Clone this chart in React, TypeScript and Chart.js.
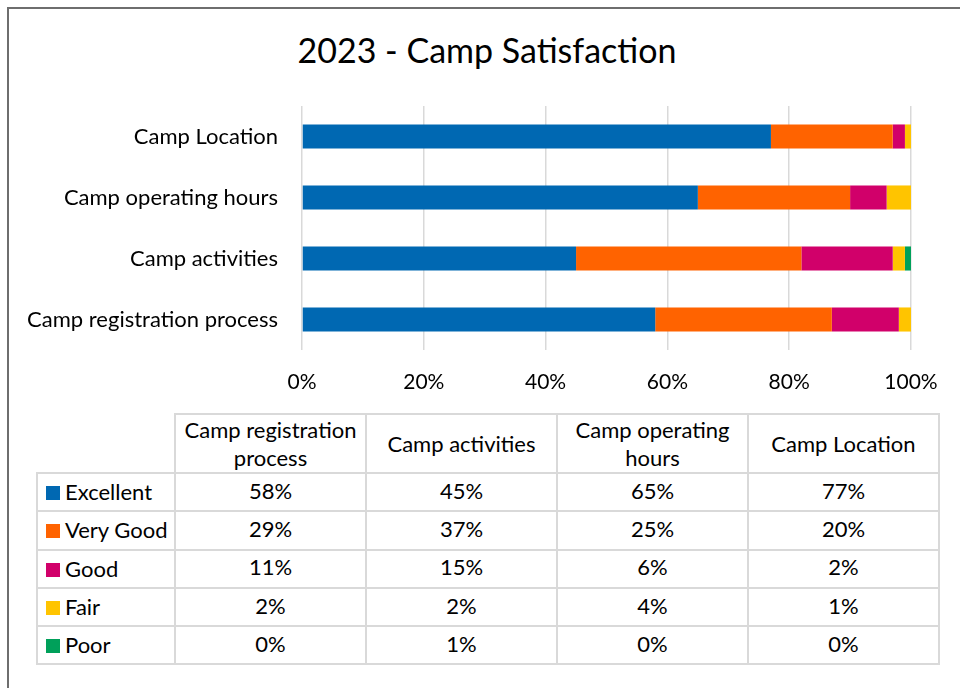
import React, { useEffect, useRef } from "react";
import { Chart, registerables } from "chart.js";

Chart.register(...registerables);

const TITLE = "2023 - Camp Satisfaction";
const categories = [
  "Camp registration process",
  "Camp activities",
  "Camp operating hours",
  "Camp Location",
];
const tableHeaders = [
  ["Camp registration", "process"],
  ["Camp activities"],
  ["Camp operating", "hours"],
  ["Camp Location"],
];
const seriesNames = ["Excellent", "Very Good", "Good", "Fair", "Poor"];
const excellent = [58, 45, 65, 77];
const veryGood = [29, 37, 25, 20];
const good = [11, 15, 6, 2];
const fair = [2, 2, 4, 1];
const poor = [0, 1, 0, 0];
const xTicks = [0, 20, 40, 60, 80, 100];
const seriesColors = ["#0068B2", "#FF6300", "#D1006A", "#FFC400", "#00A05A"];

const seriesData = [excellent, veryGood, good, fair, poor];
const FONT = "Lato, 'Open Sans', sans-serif";

export default function App() {
  const canvasRef = useRef<HTMLCanvasElement | null>(null);

  useEffect(() => {
    const canvas = canvasRef.current;
    if (!canvas) return;
    const chart = new Chart(canvas, {
      type: "bar",
      data: {
        labels: categories,
        datasets: seriesNames.map((name, i) => ({
          label: name,
          data: seriesData[i],
          backgroundColor: seriesColors[i],
          borderWidth: 0,
          categoryPercentage: 1,
          barPercentage: 0.395,
        })),
      },
      options: {
        indexAxis: "y",
        responsive: false,
        animation: false,
        layout: { padding: { top: 106, right: 49, bottom: 0, left: 0 } },
        plugins: {
          legend: { display: false },
          tooltip: { enabled: false },
          title: { display: false },
        },
        scales: {
          x: {
            stacked: true,
            min: 0,
            max: 100,
            afterBuildTicks: (s: any) => {
              s.ticks = xTicks.map((v) => ({ value: v }));
            },
            ticks: {
              callback: (v: any) => v + "%",
              font: { family: FONT, size: 21 },
              color: "#000",
              padding: 20,
              maxRotation: 0,
            },
            grid: { color: "#d9d9d9", lineWidth: 1.5, drawTicks: false },
            border: { display: false },
            afterFit: (s: any) => {
              s.height = 50;
            },
          },
          y: {
            stacked: true,
            reverse: true,
            ticks: { font: { family: FONT, size: 22 }, color: "#000", padding: 24 },
            grid: { display: false, drawTicks: false },
            border: { display: false },
            afterFit: (s: any) => {
              s.width = 302;
            },
          },
        },
      },
    });
    return () => chart.destroy();
  }, []);

  const border = "2px solid #d9d9d9";
  const cellBase: React.CSSProperties = {
    border,
    padding: 0,
    textAlign: "center",
    verticalAlign: "middle",
    fontSize: 22,
    lineHeight: "26px",
    color: "#000",
  };

  return (
    <div
      style={{
        position: "fixed",
        left: 0,
        top: 0,
        width: 960,
        height: 688,
        background: "#fff",
        overflow: "hidden",
        fontFamily: FONT,
      }}
    >
      <div
        style={{
          position: "absolute",
          left: 7,
          top: 7,
          width: 1000,
          height: 1000,
          borderLeft: "2px solid #6e6e6e",
          borderTop: "2px solid #6e6e6e",
          boxSizing: "border-box",
        }}
      />
      <div
        style={{
          position: "absolute",
          left: 0,
          top: 29,
          width: 974,
          textAlign: "center",
          fontSize: 34,
          lineHeight: "42px",
          color: "#000",
        }}
      >
        {TITLE}
      </div>
      <canvas
        ref={canvasRef}
        width={960}
        height={400}
        style={{ position: "absolute", left: 0, top: 0, width: 960, height: 400 }}
      />
      <table
        style={{
          position: "absolute",
          left: 36,
          top: 413,
          width: 902,
          borderCollapse: "collapse",
          tableLayout: "fixed",
          fontFamily: FONT,
        }}
      >
        <colgroup>
          <col style={{ width: 138 }} />
          {categories.map((c) => (
            <col key={c} style={{ width: 191 }} />
          ))}
        </colgroup>
        <tbody>
          <tr style={{ height: 59 }}>
            <td style={{ ...cellBase, border: "none" }} />
            {tableHeaders.map((lines, i) => (
              <td key={i} style={{ ...cellBase, lineHeight: "28px" }}>
                {lines.map((l, j) => (
                  <div key={j}>{l}</div>
                ))}
              </td>
            ))}
          </tr>
          {seriesNames.map((name, si) => (
            <tr key={name} style={{ height: 38.3 }}>
              <td style={{ ...cellBase, textAlign: "left", whiteSpace: "nowrap" }}>
                <span
                  style={{
                    display: "inline-block",
                    width: 14,
                    height: 14,
                    background: seriesColors[si],
                    marginLeft: 8,
                    marginRight: 5,
                    verticalAlign: "0px",
                  }}
                />
                {name}
              </td>
              {seriesData[si].map((v, ci) => (
                <td key={ci} style={{ ...cellBase, paddingBottom: 3 }}>
                  {v + "%"}
                </td>
              ))}
            </tr>
          ))}
        </tbody>
      </table>
    </div>
  );
}
